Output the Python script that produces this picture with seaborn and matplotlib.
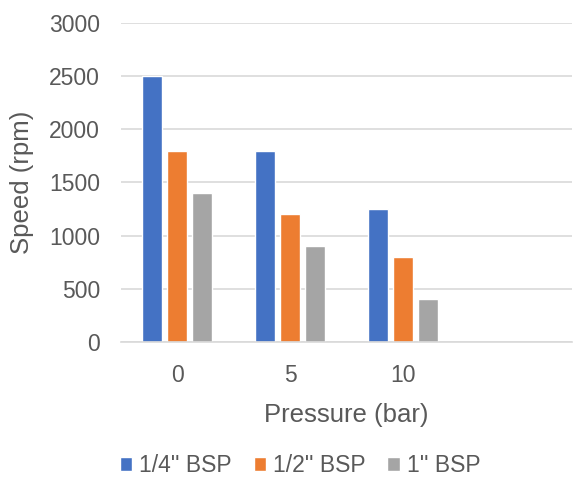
"""
Bar chart of motor speed versus supply pressure for three BSP port sizes.
"""

import matplotlib.pyplot as plt
import pandas as pd
import seaborn as sns


# ---------------------------------------------------------------------------
# Data
# ---------------------------------------------------------------------------

PRESSURES = ["0", "5", "10"]
PORT_SIZES = ["1/4'' BSP", "1/2'' BSP", "1'' BSP"]

SPEED_QUARTER = [2500, 1800, 1250]
SPEED_HALF = [1800, 1200, 800]
SPEED_ONE = [1400, 900, 400]

Y_TICKS = [0, 500, 1000, 1500, 2000, 2500, 3000]

COLORS = ["#4472C4", "#ED7D31", "#A5A5A5"]
TEXT_COLOR = "#595959"
GRID_COLOR = "#D9D9D9"


# ---------------------------------------------------------------------------
# Plot settings
# ---------------------------------------------------------------------------

sns.set_theme(style="white")
plt.rcParams["font.family"] = ["Liberation Sans", "DejaVu Sans"]


def build_frame() -> pd.DataFrame:
    """Put the series into long form for seaborn."""
    rows = []
    for size, values in zip(PORT_SIZES, [SPEED_QUARTER, SPEED_HALF, SPEED_ONE]):
        for pressure, speed in zip(PRESSURES, values):
            rows.append({"Pressure": pressure, "Port": size, "Speed": speed})
    return pd.DataFrame(rows)


def main() -> None:
    df = build_frame()

    fig = plt.figure(figsize=(5.75, 4.78), dpi=100)
    ax = fig.add_axes([0.21, 0.2845, 0.785, 0.6675])

    sns.barplot(
        data=df,
        x="Pressure",
        y="Speed",
        hue="Port",
        order=PRESSURES,
        hue_order=PORT_SIZES,
        palette=COLORS,
        width=0.66,
        gap=0.2,
        saturation=1,
        ax=ax,
    )

    # Excel leaves an empty fourth category slot on the right
    ax.set_xlim(-0.5, 3.5)
    ax.set_ylim(0, 3000)
    ax.set_yticks(Y_TICKS)

    ax.yaxis.grid(True, color=GRID_COLOR, linewidth=1.2)
    ax.set_axisbelow(True)
    for side in ["left", "right", "top"]:
        ax.spines[side].set_visible(False)
    ax.spines["bottom"].set_color(GRID_COLOR)
    ax.spines["bottom"].set_linewidth(1.2)

    ax.tick_params(axis="both", length=0, labelsize=16.5, colors=TEXT_COLOR)
    ax.tick_params(axis="x", pad=16)
    ax.tick_params(axis="y", pad=15)

    ax.set_xlabel("Pressure (bar)", fontsize=18.5, color=TEXT_COLOR, labelpad=11)
    ax.set_ylabel("Speed (rpm)", fontsize=18.5, color=TEXT_COLOR, labelpad=11)

    ax.legend(
        loc="center",
        bbox_to_anchor=(0.522, 0.026),
        bbox_transform=fig.transFigure,
        ncol=3,
        frameon=False,
        fontsize=16.5,
        handlelength=0.55,
        handleheight=0.55,
        handletextpad=0.3,
        columnspacing=0.95,
        labelcolor=TEXT_COLOR,
    )

    fig.savefig("out.png", dpi=100)
    plt.close(fig)


if __name__ == "__main__":
    main()
